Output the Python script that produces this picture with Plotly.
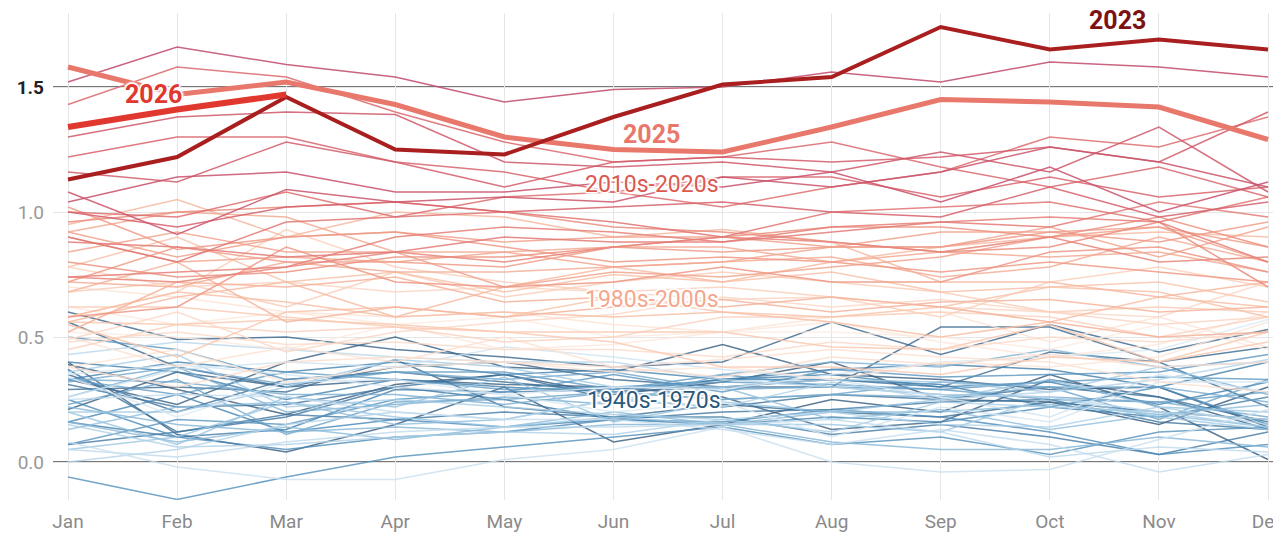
import plotly.graph_objects as go
from plotly.colors import sample_colorscale

months = ["Jan", "Feb", "Mar", "Apr", "May", "Jun", "Jul", "Aug", "Sep", "Oct", "Nov", "Dec"]

# monthly global temperature anomaly, one row per year
cool_1940s = [
    [0.39, 0.29, 0.19, 0.31, 0.35, 0.27, 0.32, 0.40, 0.25, 0.24, 0.15, 0.30],
    [0.40, 0.11, 0.04, 0.15, 0.30, 0.08, 0.15, 0.25, 0.20, 0.35, 0.22, 0.01],
    [0.33, 0.23, 0.40, 0.50, 0.38, 0.36, 0.47, 0.35, 0.33, 0.29, 0.30, 0.14],
    [0.21, 0.36, 0.30, 0.33, 0.31, 0.30, 0.26, 0.13, 0.16, 0.33, 0.26, 0.13],
    [0.60, 0.49, 0.50, 0.45, 0.42, 0.38, 0.40, 0.56, 0.43, 0.55, 0.44, 0.53],
    [0.56, 0.38, 0.30, 0.38, 0.40, 0.33, 0.30, 0.30, 0.54, 0.54, 0.40, 0.46],
    [0.29, 0.30, 0.28, 0.41, 0.22, 0.18, 0.23, 0.20, 0.18, 0.24, 0.20, 0.17],
    [0.35, 0.20, 0.33, 0.36, 0.32, 0.28, 0.30, 0.33, 0.30, 0.44, 0.40, 0.22],
    [0.37, 0.12, 0.18, 0.30, 0.35, 0.25, 0.22, 0.27, 0.25, 0.30, 0.26, 0.16],
    [0.31, 0.22, 0.23, 0.30, 0.25, 0.17, 0.20, 0.21, 0.24, 0.25, 0.16, 0.13],
]
cool_1950s = [
    [0.07, 0.12, 0.19, 0.17, 0.20, 0.18, 0.18, 0.11, 0.15, 0.10, 0.03, 0.12],
    [0.16, 0.10, 0.13, 0.29, 0.28, 0.29, 0.33, 0.37, 0.39, 0.37, 0.30, 0.40],
    [0.40, 0.36, 0.25, 0.33, 0.30, 0.28, 0.33, 0.33, 0.31, 0.22, 0.18, 0.26],
    [0.33, 0.40, 0.36, 0.40, 0.35, 0.37, 0.33, 0.35, 0.30, 0.32, 0.23, 0.32],
    [0.16, 0.27, 0.12, 0.17, 0.14, 0.17, 0.15, 0.18, 0.16, 0.22, 0.30, 0.15],
    [0.25, 0.10, 0.05, 0.10, 0.12, 0.17, 0.16, 0.21, 0.18, 0.12, 0.03, 0.07],
    [-0.06, -0.15, -0.06, 0.02, 0.06, 0.10, 0.14, 0.07, 0.10, 0.03, 0.12, 0.14],
    [0.07, 0.17, 0.15, 0.25, 0.28, 0.35, 0.28, 0.37, 0.34, 0.35, 0.36, 0.43],
    [0.50, 0.45, 0.33, 0.36, 0.36, 0.29, 0.35, 0.30, 0.29, 0.32, 0.34, 0.33],
    [0.33, 0.27, 0.36, 0.33, 0.29, 0.30, 0.32, 0.31, 0.29, 0.25, 0.24, 0.28],
]
cool_1960s = [
    [0.23, 0.33, 0.11, 0.24, 0.25, 0.28, 0.25, 0.27, 0.32, 0.30, 0.17, 0.33],
    [0.32, 0.38, 0.31, 0.36, 0.33, 0.36, 0.29, 0.30, 0.27, 0.26, 0.24, 0.18],
    [0.33, 0.32, 0.27, 0.27, 0.23, 0.28, 0.25, 0.27, 0.26, 0.30, 0.30, 0.24],
    [0.26, 0.38, 0.20, 0.23, 0.26, 0.23, 0.35, 0.40, 0.38, 0.45, 0.38, 0.27],
    [0.22, 0.15, 0.12, 0.14, 0.12, 0.15, 0.15, 0.08, 0.05, 0.05, 0.10, 0.06],
    [0.16, 0.08, 0.14, 0.09, 0.14, 0.20, 0.15, 0.20, 0.20, 0.23, 0.19, 0.23],
    [0.13, 0.22, 0.24, 0.15, 0.17, 0.25, 0.30, 0.17, 0.21, 0.13, 0.19, 0.14],
    [0.20, 0.07, 0.26, 0.22, 0.34, 0.16, 0.24, 0.20, 0.25, 0.33, 0.22, 0.20],
    [0.05, 0.10, 0.24, 0.18, 0.14, 0.18, 0.15, 0.15, 0.12, 0.26, 0.18, 0.13],
    [0.20, 0.20, 0.30, 0.41, 0.38, 0.30, 0.30, 0.33, 0.32, 0.28, 0.38, 0.40],
]
cool_1970s = [
    [0.36, 0.43, 0.22, 0.25, 0.22, 0.19, 0.17, 0.12, 0.24, 0.22, 0.20, 0.14],
    [0.15, 0.06, 0.07, 0.10, 0.12, 0.11, 0.17, 0.20, 0.15, 0.14, 0.22, 0.15],
    [0.00, 0.05, 0.15, 0.20, 0.17, 0.25, 0.22, 0.32, 0.25, 0.28, 0.33, 0.41],
    [0.43, 0.48, 0.45, 0.42, 0.40, 0.40, 0.33, 0.30, 0.27, 0.26, 0.20, 0.17],
    [0.05, 0.02, 0.08, 0.12, 0.14, 0.14, 0.15, 0.17, 0.12, 0.02, 0.06, 0.04],
    [0.25, 0.27, 0.26, 0.20, 0.17, 0.17, 0.13, 0.07, 0.13, 0.07, -0.04, 0.03],
    [0.08, -0.02, -0.07, -0.07, 0.01, 0.05, 0.14, 0.00, -0.04, -0.03, 0.09, 0.21],
    [0.26, 0.37, 0.40, 0.38, 0.46, 0.42, 0.37, 0.33, 0.26, 0.18, 0.35, 0.28],
    [0.35, 0.39, 0.35, 0.30, 0.27, 0.20, 0.24, 0.10, 0.22, 0.16, 0.32, 0.32],
    [0.34, 0.18, 0.32, 0.33, 0.27, 0.30, 0.29, 0.35, 0.40, 0.42, 0.45, 0.57],
]
warm_1980s = [
    [0.52, 0.50, 0.45, 0.55, 0.58, 0.50, 0.52, 0.52, 0.50, 0.45, 0.55, 0.45],
    [0.62, 0.55, 0.60, 0.55, 0.45, 0.47, 0.52, 0.56, 0.48, 0.42, 0.47, 0.60],
    [0.38, 0.45, 0.32, 0.38, 0.40, 0.36, 0.38, 0.33, 0.40, 0.38, 0.42, 0.56],
    [0.70, 0.66, 0.60, 0.58, 0.60, 0.55, 0.52, 0.58, 0.60, 0.48, 0.58, 0.46],
    [0.50, 0.38, 0.46, 0.40, 0.50, 0.38, 0.41, 0.45, 0.42, 0.40, 0.32, 0.28],
    [0.38, 0.30, 0.40, 0.42, 0.40, 0.38, 0.34, 0.42, 0.39, 0.43, 0.38, 0.40],
    [0.48, 0.52, 0.47, 0.48, 0.45, 0.45, 0.42, 0.48, 0.45, 0.50, 0.48, 0.52],
    [0.49, 0.60, 0.44, 0.52, 0.56, 0.59, 0.66, 0.62, 0.65, 0.60, 0.58, 0.72],
    [0.78, 0.70, 0.72, 0.68, 0.70, 0.68, 0.65, 0.66, 0.62, 0.60, 0.55, 0.58],
    [0.45, 0.55, 0.52, 0.54, 0.48, 0.50, 0.58, 0.58, 0.60, 0.58, 0.50, 0.58],
]
warm_1990s = [
    [0.58, 0.68, 0.93, 0.78, 0.72, 0.68, 0.70, 0.66, 0.58, 0.72, 0.78, 0.70],
    [0.68, 0.72, 0.62, 0.76, 0.66, 0.72, 0.76, 0.72, 0.68, 0.60, 0.62, 0.60],
    [0.62, 0.62, 0.58, 0.54, 0.52, 0.48, 0.38, 0.38, 0.35, 0.42, 0.40, 0.48],
    [0.56, 0.55, 0.57, 0.55, 0.52, 0.52, 0.52, 0.46, 0.45, 0.55, 0.40, 0.52],
    [0.55, 0.42, 0.60, 0.62, 0.58, 0.66, 0.60, 0.58, 0.62, 0.70, 0.72, 0.64],
    [0.78, 0.90, 0.72, 0.76, 0.68, 0.75, 0.72, 0.76, 0.68, 0.70, 0.68, 0.58],
    [0.58, 0.68, 0.64, 0.58, 0.60, 0.58, 0.60, 0.56, 0.50, 0.56, 0.66, 0.62],
    [0.56, 0.66, 0.72, 0.58, 0.70, 0.78, 0.72, 0.80, 0.86, 0.90, 0.92, 0.90],
    [0.95, 1.05, 0.90, 1.00, 0.98, 0.90, 0.93, 0.88, 0.72, 0.72, 0.66, 0.72],
    [0.68, 0.80, 0.56, 0.62, 0.58, 0.62, 0.65, 0.60, 0.64, 0.65, 0.60, 0.62],
]
warm_2000s = [
    [0.52, 0.72, 0.70, 0.74, 0.64, 0.66, 0.62, 0.66, 0.62, 0.56, 0.50, 0.52],
    [0.72, 0.70, 0.80, 0.76, 0.76, 0.78, 0.80, 0.82, 0.74, 0.78, 0.90, 0.80],
    [0.92, 1.00, 0.98, 0.84, 0.84, 0.86, 0.86, 0.80, 0.84, 0.82, 0.84, 0.76],
    [0.90, 0.80, 0.82, 0.80, 0.84, 0.78, 0.80, 0.86, 0.86, 0.94, 0.82, 0.94],
    [0.84, 0.92, 0.84, 0.84, 0.70, 0.76, 0.74, 0.78, 0.82, 0.90, 0.94, 0.80],
    [0.92, 0.82, 0.90, 0.92, 0.88, 0.90, 0.90, 0.86, 0.92, 0.92, 0.94, 0.86],
    [0.72, 0.86, 0.80, 0.80, 0.78, 0.86, 0.84, 0.86, 0.86, 0.92, 0.88, 0.96],
    [1.02, 0.85, 0.90, 0.92, 0.86, 0.80, 0.82, 0.80, 0.76, 0.80, 0.76, 0.72],
    [0.58, 0.62, 0.86, 0.72, 0.70, 0.72, 0.78, 0.72, 0.72, 0.84, 0.86, 0.76],
    [0.80, 0.74, 0.76, 0.82, 0.82, 0.86, 0.90, 0.94, 0.94, 0.90, 0.98, 0.86],
]
warm_2010s = [
    [0.96, 1.00, 1.02, 1.04, 1.00, 0.94, 0.92, 0.88, 0.84, 0.86, 0.96, 0.70],
    [0.74, 0.72, 0.78, 0.84, 0.80, 0.86, 0.90, 0.88, 0.84, 0.90, 0.80, 0.82],
    [0.74, 0.76, 0.78, 0.90, 0.94, 0.92, 0.88, 0.94, 0.96, 0.98, 0.96, 0.80],
    [0.88, 0.86, 0.82, 0.84, 0.90, 0.88, 0.88, 0.92, 0.96, 0.94, 1.04, 0.98],
    [0.90, 0.80, 0.96, 0.98, 1.00, 0.96, 0.90, 1.00, 1.02, 1.04, 0.96, 1.06],
    [1.00, 0.98, 1.08, 0.98, 1.06, 1.08, 1.02, 1.10, 1.16, 1.30, 1.26, 1.38],
    [1.43, 1.58, 1.54, 1.40, 1.28, 1.20, 1.22, 1.28, 1.18, 1.10, 1.18, 1.06],
    [1.22, 1.30, 1.30, 1.20, 1.16, 1.08, 1.14, 1.14, 1.06, 1.14, 1.06, 1.10],
    [1.00, 0.94, 1.02, 1.04, 1.00, 1.02, 1.04, 1.00, 0.98, 1.10, 0.98, 1.04],
    [1.16, 1.12, 1.28, 1.20, 1.10, 1.20, 1.22, 1.20, 1.22, 1.26, 1.20, 1.40],
]
warm_2020s_years = [2020, 2021, 2022, 2024]
warm_2020s = [
    [1.30, 1.38, 1.40, 1.39, 1.20, 1.18, 1.20, 1.16, 1.24, 1.16, 1.34, 1.08],
    [1.08, 0.91, 1.09, 1.04, 1.06, 1.04, 1.14, 1.10, 1.16, 1.26, 1.20, 1.10],
    [1.04, 1.14, 1.16, 1.08, 1.08, 1.12, 1.10, 1.16, 1.04, 1.18, 1.00, 1.12],
    [1.52, 1.66, 1.59, 1.54, 1.44, 1.49, 1.50, 1.56, 1.52, 1.60, 1.58, 1.54],
]

y2023 = [1.13, 1.22, 1.46, 1.25, 1.23, 1.38, 1.51, 1.54, 1.74, 1.65, 1.69, 1.65]
y2025 = [1.58, 1.47, 1.52, 1.43, 1.30, 1.25, 1.24, 1.34, 1.45, 1.44, 1.42, 1.29]
y2026 = [1.34, 1.41, 1.47]

blue_scale = [[0, "#34587a"], [0.35, "#4585b3"], [0.7, "#98c5e2"], [1, "#dceaf5"]]
red_scale = [[0, "#feece2"], [0.35, "#f9c2a8"], [0.65, "#ee9481"], [0.85, "#d8616a"], [1, "#c24a6b"]]

fig = go.Figure()

cool_rows = cool_1940s + cool_1950s + cool_1960s + cool_1970s
cool_years = list(range(1940, 1980))
cool_colors = sample_colorscale(blue_scale, [(y - 1940) / 39 for y in cool_years])
for yr, vals, c in zip(cool_years, cool_rows, cool_colors):
    fig.add_trace(go.Scatter(x=months, y=vals, mode="lines", name=str(yr),
                             line=dict(color=c, width=1.5), opacity=0.8))

warm_rows = warm_1980s + warm_1990s + warm_2000s + warm_2010s + warm_2020s
warm_years = list(range(1980, 2020)) + warm_2020s_years
warm_colors = sample_colorscale(red_scale, [(y - 1980) / 44 for y in warm_years])
for yr, vals, c in zip(warm_years, warm_rows, warm_colors):
    fig.add_trace(go.Scatter(x=months, y=vals, mode="lines", name=str(yr),
                             line=dict(color=c, width=1.5), opacity=0.85))

fig.add_trace(go.Scatter(x=months, y=y2025, mode="lines", name="2025",
                         line=dict(color="#e9786c", width=5)))
fig.add_trace(go.Scatter(x=months, y=y2023, mode="lines", name="2023",
                         line=dict(color="#a91f1f", width=4)))
fig.add_trace(go.Scatter(x=months[:3], y=y2026, mode="lines", name="2026",
                         line=dict(color="#e0382e", width=6)))

# dark reference lines at 0.0 and 1.5
for yv in [0, 1.5]:
    fig.add_shape(type="line", xref="paper", x0=0, x1=1, y0=yv, y1=yv,
                  line=dict(color="#4a4a4a", width=1.6), layer="between")

halo = ("1px 1px 1px #fff, -1px -1px 1px #fff, 1px -1px 1px #fff, -1px 1px 1px #fff, "
        "2px 0 2px #fff, -2px 0 2px #fff, 0 2px 2px #fff, 0 -2px 2px #fff")
labels = [
    ("2026", 0.78, 1.47, "#e0382e", 25, True),
    ("2025", 5.35, 1.31, "#e9786c", 25, True),
    ("2023", 9.62, 1.765, "#7d1012", 25, True),
    ("2010s-2020s", 5.35, 1.11, "#dc5950", 23, False),
    ("1980s-2000s", 5.35, 0.65, "#f4a78d", 23, False),
    ("1940s-1970s", 5.37, 0.245, "#2b587d", 23, False),
]
for txt, xv, yv, col, size, bold in labels:
    fig.add_annotation(x=xv, y=yv, text=f"<b>{txt}</b>" if bold else txt, showarrow=False,
                       xref="x", yref="y", borderpad=0,
                       font=dict(family="Roboto", size=size, color=col, shadow=halo))

# page body adds an 8px offset, so the figure is sized to fit inside it
fig.update_layout(
    width=1273, height=527,
    margin=dict(l=45, r=0, t=5, b=35, autoexpand=False),
    paper_bgcolor="white", plot_bgcolor="white",
    showlegend=False,
    font=dict(family="Roboto", size=19, color="#8a8a8a"),
)
fig.update_xaxes(range=[-0.1375, 11.119], showgrid=True, gridcolor="#e6e6e6", gridwidth=1,
                 zeroline=False, showline=False, ticks="", ticklabelstandoff=8, automargin=False,
                 tickfont=dict(size=19, color="#8a8a8a"))
fig.update_yaxes(range=[-0.152, 1.796], tickvals=[0, 0.5, 1.0, 1.5],
                 ticktext=["0.0", "0.5", "1.0", "<span style='color:#222'><b>1.5</b></span>"],
                 showgrid=True, gridcolor="#e6e6e6", gridwidth=1, zeroline=False,
                 showline=False, ticks="", ticklabelstandoff=8, automargin=False,
                 tickfont=dict(size=19, color="#999"))

fig.write_html("out.html")
